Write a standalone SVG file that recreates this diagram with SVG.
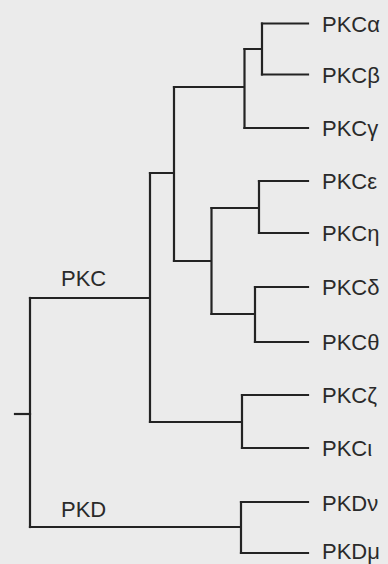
<svg xmlns="http://www.w3.org/2000/svg" width="388" height="564" viewBox="0 0 388 564">
  <style>
    .edge { fill: none; stroke: #232323; stroke-width: 2.2; stroke-linecap: square; stroke-linejoin: miter; }
    .lbl { font-family: "Liberation Sans", Arial, sans-serif; font-size: 22px; fill: #2a2a2a; }
  </style>
  <rect x="0" y="0" width="388" height="564" fill="#ebebeb"/>

  <!-- tree branches -->
  <g id="connectors" class="edge">
    <!-- root -->
    <path d="M15 414 H30"/>
    <path d="M30 298 V527"/>
    <!-- PKC clade -->
    <path d="M30 298 H150 M150 173 V422"/>
    <path d="M150 173 H174 M174 87 V261"/>
    <!-- alpha / beta / gamma -->
    <path d="M174 87 H244.5 M244.5 49 V128"/>
    <path d="M244.5 49 H262 M262 23.5 V74.5"/>
    <path d="M262 23.5 H308 M262 74.5 H308"/>
    <path d="M244.5 128 H308"/>
    <!-- epsilon / eta / delta / theta -->
    <path d="M174 261 H211.5 M211.5 208 V314"/>
    <path d="M211.5 208 H259 M259 181 V233"/>
    <path d="M259 181 H308 M259 233 H308"/>
    <path d="M211.5 314 H255 M255 287 V342"/>
    <path d="M255 287 H308 M255 342 H308"/>
    <!-- zeta / iota -->
    <path d="M150 422 H242 M242 395 V448"/>
    <path d="M242 395 H308 M242 448 H308"/>
    <!-- PKD clade -->
    <path d="M30 527 H241 M241 502 V553"/>
    <path d="M241 502 H308 M241 553 H308"/>
  </g>

  <!-- clade labels -->
  <g id="clade-pkc"><text class="lbl" x="61" y="286">PKC</text></g>
  <g id="clade-pkd"><text class="lbl" x="61" y="517">PKD</text></g>

  <!-- leaves -->
  <g id="pkc-alpha"><text class="lbl" x="322" y="31.5">PKCα</text></g>
  <g id="pkc-beta"><text class="lbl" x="322" y="82.5">PKCβ</text></g>
  <g id="pkc-gamma"><text class="lbl" x="322" y="136">PKCγ</text></g>
  <g id="pkc-epsilon"><text class="lbl" x="322" y="189">PKCε</text></g>
  <g id="pkc-eta"><text class="lbl" x="322" y="241">PKCη</text></g>
  <g id="pkc-delta"><text class="lbl" x="322" y="295">PKCδ</text></g>
  <g id="pkc-theta"><text class="lbl" x="322" y="350">PKCθ</text></g>
  <g id="pkc-zeta"><text class="lbl" x="322" y="403">PKCζ</text></g>
  <g id="pkc-iota"><text class="lbl" x="322" y="456">PKCι</text></g>
  <g id="pkd-nu"><text class="lbl" x="322" y="510.5">PKDν</text></g>
  <g id="pkd-mu"><text class="lbl" x="322" y="559">PKDμ</text></g>
</svg>
